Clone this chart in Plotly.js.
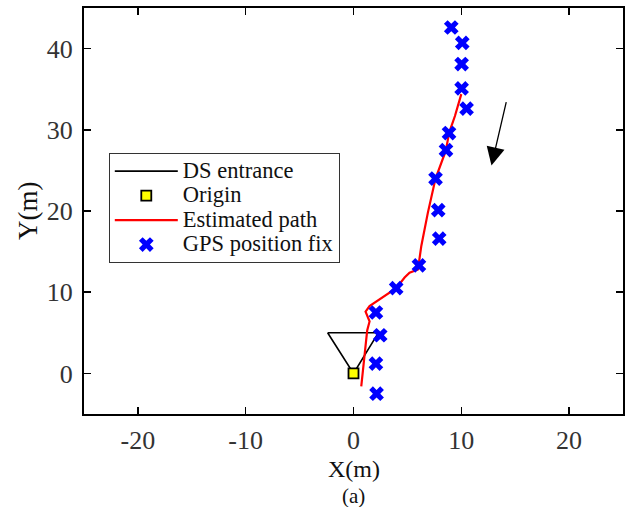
<!DOCTYPE html>
<html>
<head>
<meta charset="utf-8">
<script src="https://cdn.plot.ly/plotly-3.0.1.min.js"></script>
<style>html,body{margin:0;padding:0;background:#fff;}#chart{width:629px;height:507px;}</style>
</head>
<body>
<div id="chart"></div>
<script>
// DS entrance (triangle outline)
const dsX = [-2.4, 2.3, 0.0, -2.4];
const dsY = [5.0, 5.0, 0.0, 5.0];
// Origin
const originX = [0];
const originY = [0];
// Estimated path
const pathX = [10.0, 9.41, 8.86, 8.58, 7.61, 6.9, 6.29, 5.98, 5.2, 4.74, 3.96, 2.57, 1.49, 1.12, 1.49, 1.27, 1.09, 0.9, 0.72];
const pathY = [34.4, 31.7, 29.6, 27.5, 24.0, 19.8, 15.7, 12.8, 12.4, 11.8, 10.5, 9.2, 8.3, 7.6, 6.4, 5.3, 3.0, 0.9, -1.6];
// GPS position fixes
const gpsX = [9.07, 10.09, 10.03, 10.03, 10.49, 8.86, 8.58, 7.61, 7.86, 7.95, 6.07, 3.96, 2.08, 2.48, 2.08, 2.14];
const gpsY = [42.6, 40.7, 38.1, 35.1, 32.6, 29.6, 27.5, 24.0, 20.1, 16.6, 13.3, 10.5, 7.5, 4.7, 1.2, -2.5];
// Axis ticks
const xTicks = [-20, -10, 0, 10, 20];
const yTicks = [0, 10, 20, 30, 40];
// Series names
const names = ['DS entrance', 'Origin', 'Estimated path', 'GPS position fix'];
// Direction arrow (tail -> head)
const arrowTail = [14.2, 33.6];
const arrowHead = [12.8, 25.6];

const font = 'Liberation Serif';
const lg = s => '<span style="font-size:22.5px">' + s + '</span>';

const traces = [
  {x: dsX, y: dsY, mode: 'lines', name: lg(names[0]), line: {color: '#000', width: 1.6}},
  {x: originX, y: originY, mode: 'markers', name: lg(names[1]),
   marker: {symbol: 'square', size: 10, color: '#ffff00', line: {color: '#000', width: 1.8}}},
  {x: pathX, y: pathY, mode: 'lines', name: lg(names[2]), line: {color: '#ff0000', width: 2.2}},
  {x: gpsX, y: gpsY, mode: 'markers', name: lg(names[3]),
   marker: {symbol: 'x', size: 13, color: '#0000ff', line: {width: 0}}}
];

const axisCommon = {
  showgrid: false, zeroline: false, showline: true, linecolor: '#000', linewidth: 2,
  mirror: 'ticks', ticks: 'inside', ticklen: 7, tickwidth: 1.5, tickcolor: '#000',
  tickfont: {family: font, size: 26, color: '#333'}
};

const layout = {
  width: 629, height: 507,
  margin: {l: 84, r: 6, t: 8, b: 93},
  paper_bgcolor: '#fff', plot_bgcolor: '#fff',
  font: {family: font},
  showlegend: true,
  legend: {x: 0.046, y: 0.643, xanchor: 'left', yanchor: 'top',
    bgcolor: '#fff', bordercolor: '#333', borderwidth: 1,
    font: {family: font, size: 16.5, color: '#111'}, tracegroupgap: 0, itemwidth: 63},
  xaxis: Object.assign({}, axisCommon, {
    range: [-25, 25], tickvals: xTicks, ticktext: xTicks.map(String), ticklabelstandoff: 2
  }),
  yaxis: Object.assign({}, axisCommon, {
    range: [-5, 45], tickvals: yTicks, ticktext: yTicks.map(String), ticklabelstandoff: 4
  }),
  annotations: [
    {x: arrowHead[0], y: arrowHead[1], ax: arrowTail[0], ay: arrowTail[1],
     xref: 'x', yref: 'y', axref: 'x', ayref: 'y', text: '', showarrow: true,
     arrowhead: 2, arrowsize: 2.8, arrowwidth: 1.3, arrowcolor: '#000'},
    {x: 0.5, y: 0, xref: 'paper', yref: 'paper', yshift: -55, text: 'X(m)', showarrow: false,
     xanchor: 'center', yanchor: 'middle', font: {family: font, size: 24, color: '#111'}},
    {x: 0, y: 0.5, xref: 'paper', yref: 'paper', xshift: -56, text: 'Y(m)', showarrow: false,
     textangle: -90, xanchor: 'center', yanchor: 'middle', font: {family: font, size: 27, color: '#111'}},
    {x: 0.5, y: 0, xref: 'paper', yref: 'paper', yshift: -82, text: '(a)', showarrow: false,
     xanchor: 'center', yanchor: 'middle', font: {family: font, size: 21, color: '#111'}}
  ]
};

Plotly.newPlot('chart', traces, layout, {displayModeBar: false, staticPlot: true});
</script>
</body>
</html>
